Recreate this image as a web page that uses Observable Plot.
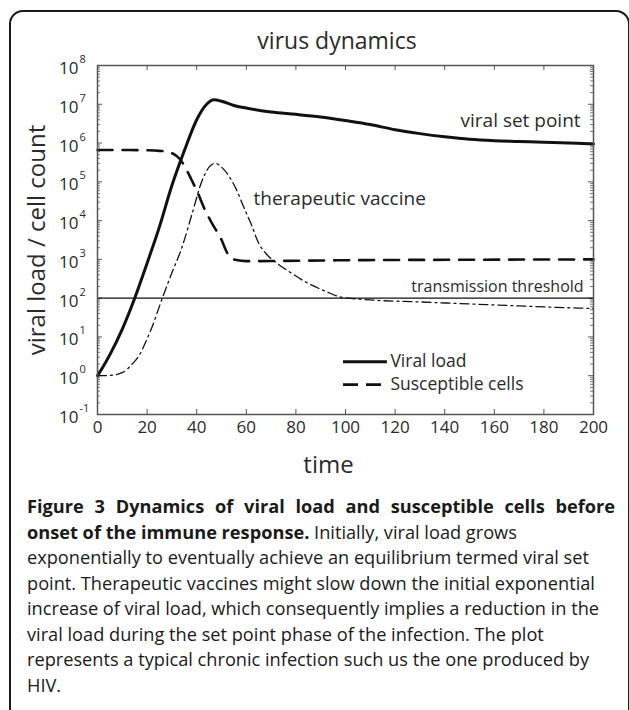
<!DOCTYPE html>
<html>
<head>
<meta charset="utf-8">
<script src="https://cdn.jsdelivr.net/npm/d3@7"></script>
<script src="https://cdn.jsdelivr.net/npm/@observablehq/plot@0.6"></script>
<style>
  html, body { margin: 0; padding: 0; background: #fff; width: 629px; height: 710px; overflow: hidden; }
  body { position: relative; font-family: "Open Sans", sans-serif; color: #222; }
  #box { position: absolute; left: 9px; top: 10px; width: 621px; height: 800px; box-sizing: border-box;
         border: 2px solid #1a1a1a; border-radius: 14px; }
  #title { position: absolute; left: 89px; width: 496px; top: 24px; text-align: center;
           font-size: 23px; line-height: 32px; color: #2a2a2a; }
  #chart { position: absolute; left: 0; top: 52px; }
  #caption { position: absolute; left: 27px; top: 494px; width: 592px; font-size: 18.2px; line-height: 25.5px; color: #1a1a1a; }
  #caption span { display: block; white-space: nowrap; }
  #caption span.j { text-align: justify; text-align-last: justify; width: 588px; }
</style>
</head>
<body>
<div id="box"></div>
<div id="title">virus dynamics</div>
<div id="chart"></div>
<div id="caption">
  <span class="j"><b>Figure 3 Dynamics of viral load and susceptible cells before</b></span>
  <span><b>onset of the immune response.</b> Initially, viral load grows</span>
  <span>exponentially to eventually achieve an equilibrium termed viral set</span>
  <span>point. Therapeutic vaccines might slow down the initial exponential</span>
  <span>increase of viral load, which consequently implies a reduction in the</span>
  <span>viral load during the set point phase of the infection. The plot</span>
  <span>represents a typical chronic infection such us the one produced by</span>
  <span>HIV.</span>
</div>
<script>
// ---- data ----
const viralTime = [0, 2, 5, 10, 15, 20, 25, 30, 35, 40, 44, 47, 50, 55, 60, 70, 80, 90, 100, 110, 120, 130, 140, 150, 160, 170, 180, 190, 200];
const viralLoad = [1, 1.6, 3.5, 16, 100, 800, 7e3, 8e4, 6.3e5, 4e6, 1e7, 1.3e7, 1.2e7, 9.3e6, 8e6, 6.3e6, 5.5e6, 4.7e6, 3.8e6, 3e6, 2.2e6, 1.75e6, 1.45e6, 1.25e6, 1.15e6, 1.1e6, 1.05e6, 1e6, 9.5e5];

const cellTime = [0, 10, 20, 25, 28, 30, 33, 36, 38, 40, 43, 46, 50, 52, 53.5, 56, 60, 70, 100, 150, 200];
const cellCount = [6.6e5, 6.6e5, 6.5e5, 6.3e5, 6e5, 5.5e5, 4e5, 2e5, 1.1e5, 6e4, 2.1e4, 8.9e3, 3.2e3, 1.6e3, 1.12e3, 960, 900, 910, 950, 980, 1000];

const vaccineTime = [0, 5, 10, 14, 17, 20, 22, 26, 30, 34, 38, 42, 45, 47.5, 50, 53, 56, 59, 62, 65, 68, 72, 78, 85, 92, 98, 110, 130, 150, 170, 185, 200];
const vaccineLoad = [1, 1.02, 1.2, 2, 3.5, 9, 18, 95, 450, 2000, 1.4e4, 1e5, 2.4e5, 3e5, 2.4e5, 1.4e5, 6.3e4, 2.2e4, 8e3, 2.6e3, 1.4e3, 830, 450, 240, 150, 107, 90, 80, 71, 63, 58, 54];

const threshold = [100];
const xTicks = [0, 20, 40, 60, 80, 100, 120, 140, 160, 180, 200];
const yExponents = [-1, 0, 1, 2, 3, 4, 5, 6, 7, 8];
const annotations = ["viral set point", "therapeutic vaccine", "transmission threshold"];
const legendLabels = ["Viral load", "Susceptible cells"];

// ---- build tables ----
const viral = viralTime.map((t, i) => ({t, v: viralLoad[i]}));
const cells = cellTime.map((t, i) => ({t, v: cellCount[i]}));
const vaccine = vaccineTime.map((t, i) => ({t, v: vaccineLoad[i]}));
const majorY = yExponents.map(e => 10 ** e);
const minorY = [];
for (const e of yExponents.slice(0, -1)) for (let m = 2; m <= 9; m++) minorY.push(m * 10 ** e);

// ---- layout / style options ----
const W = 629, H = 440, ML = 97, MR = 36, MT = 13, MB = 78;
const FW = W - ML - MR, FH = H - MT - MB;
const ink = "#111", axisInk = "#555", textInk = "#2a2a2a";
const ann = {
  setPoint: {t: 194.8, v: 3.8e6},
  vaccine: {t: 62.9, v: 3.7e4},
  threshold: {t: 196, v: 190},
  legend: {t1: 99.2, t2: 116.9, t2d: 115.3, tText: 118.1, v1: 2.3, v2: 0.59}
};

const chart = Plot.plot({
  width: W, height: H,
  marginLeft: ML, marginRight: MR, marginTop: MT, marginBottom: MB,
  x: {domain: [0, 200], axis: null, label: null},
  y: {type: "log", domain: [0.1, 1e8], axis: null, label: null},
  style: {fontFamily: "'Open Sans', sans-serif", color: textInk, background: "transparent", overflow: "visible"},
  marks: [
    // ticks (inward)
    Plot.tickY(majorY, {y: d => d, stroke: axisInk, strokeWidth: 1, insetRight: FW - 5}),
    Plot.tickY(majorY, {y: d => d, stroke: axisInk, strokeWidth: 1, insetLeft: FW - 5}),
    Plot.tickY(minorY, {y: d => d, stroke: axisInk, strokeWidth: 0.8, insetRight: FW - 3}),
    Plot.tickY(minorY, {y: d => d, stroke: axisInk, strokeWidth: 0.8, insetLeft: FW - 3}),
    Plot.tickX(xTicks, {x: d => d, stroke: axisInk, strokeWidth: 1, insetTop: FH - 5}),
    Plot.tickX(xTicks, {x: d => d, stroke: axisInk, strokeWidth: 1, insetBottom: FH - 5}),
    // threshold
    Plot.ruleY(threshold, {stroke: ink, strokeWidth: 1.3}),
    // series
    Plot.line(vaccine, {x: "t", y: "v", curve: "monotone-x", stroke: ink, strokeWidth: 1.3, strokeDasharray: "9,4,2,4"}),
    Plot.line(cells, {x: "t", y: "v", curve: "monotone-x", stroke: ink, strokeWidth: 2.6, strokeDasharray: "15,10"}),
    Plot.line(viral, {x: "t", y: "v", curve: "monotone-x", stroke: ink, strokeWidth: 3}),
    // frame
    Plot.frame({stroke: axisInk, strokeWidth: 1.5}),
    // tick labels
    Plot.text(yExponents, {y: d => 10 ** d, frameAnchor: "left", text: () => "10", textAnchor: "end", dx: -19, dy: 3, fontSize: 17}),
    Plot.text(yExponents, {y: d => 10 ** d, frameAnchor: "left", text: d => String(d), textAnchor: "start", dx: -18, dy: -6, fontSize: 11}),
    Plot.text(xTicks, {x: d => d, frameAnchor: "bottom", text: d => String(d), dy: 18, fontSize: 17}),
    // axis titles
    Plot.text(["time"], {frameAnchor: "bottom", text: d => d, textAnchor: "middle", dx: -17, dy: 58, fontSize: 24}),
    Plot.text(["viral load / cell count"], {frameAnchor: "left", text: d => d, textAnchor: "middle", dx: -60, rotate: -90, fontSize: 24}),
    // annotations
    Plot.text([annotations[0]], {x: () => ann.setPoint.t, y: () => ann.setPoint.v, text: d => d, textAnchor: "end", fontSize: 19}),
    Plot.text([annotations[1]], {x: () => ann.vaccine.t, y: () => ann.vaccine.v, text: d => d, textAnchor: "start", fontSize: 19}),
    Plot.text([annotations[2]], {x: () => ann.threshold.t, y: () => ann.threshold.v, text: d => d, textAnchor: "end", fontSize: 16}),
    // legend
    Plot.ruleY([ann.legend.v1], {x1: ann.legend.t1, x2: ann.legend.t2, stroke: ink, strokeWidth: 3}),
    Plot.ruleY([ann.legend.v2], {x1: ann.legend.t1, x2: ann.legend.t2d, stroke: ink, strokeWidth: 2.6, strokeDasharray: "15,8"}),
    Plot.text(legendLabels, {x: () => ann.legend.tText, y: (d, i) => i === 0 ? ann.legend.v1 : ann.legend.v2, text: d => d, textAnchor: "start", fontSize: 17.5})
  ]
});
document.getElementById("chart").appendChild(chart);
</script>
</body>
</html>
